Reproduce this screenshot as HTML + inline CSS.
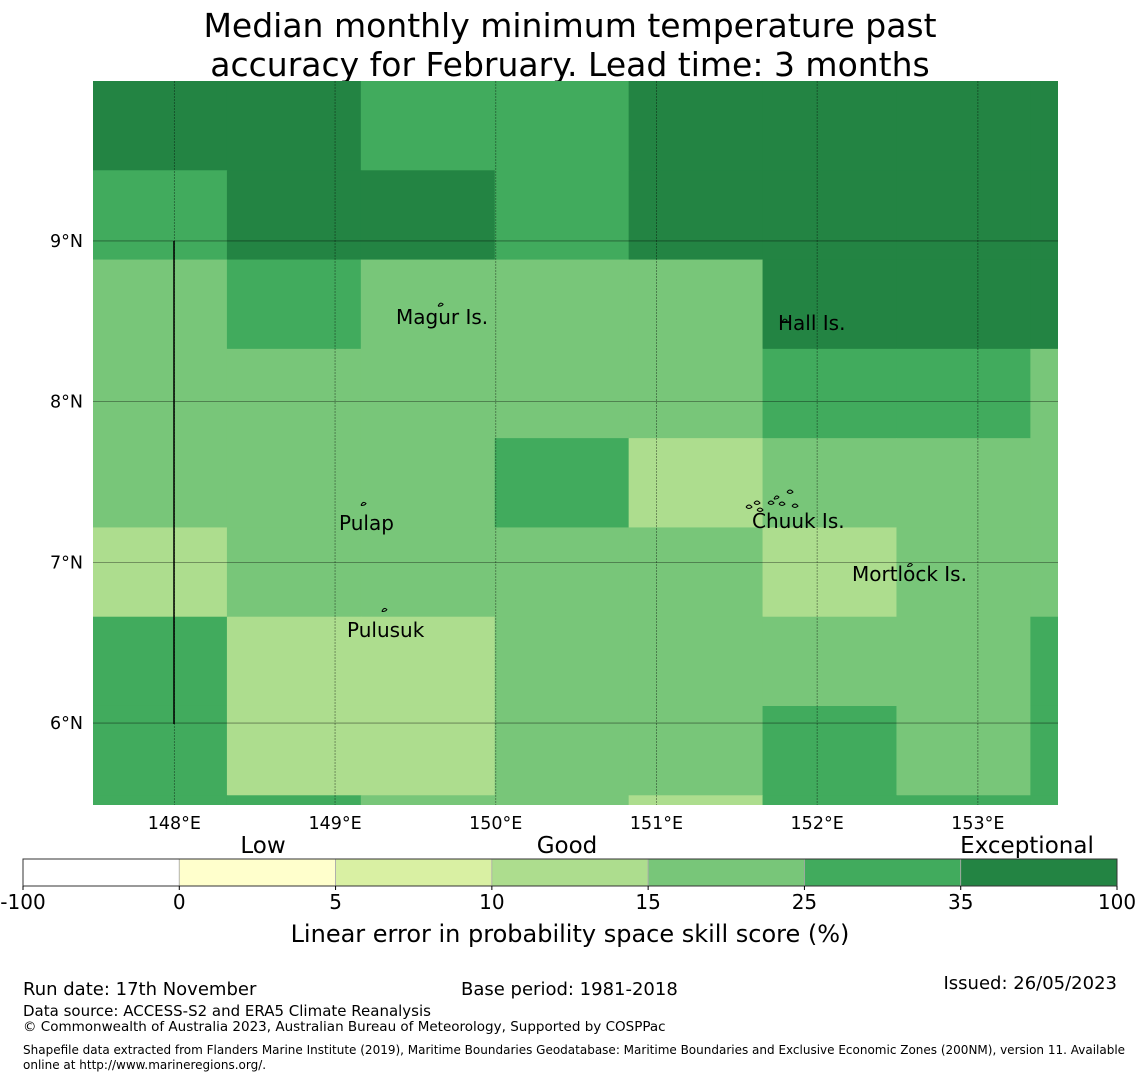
<!DOCTYPE html>
<html><head><meta charset="utf-8">
<style>
html,body{margin:0;background:#fff;overflow:hidden;width:1140px;height:1080px;}
svg{display:block;}
svg text{font-family:"DejaVu Sans","Liberation Sans",sans-serif;}
</style></head>
<body>
<svg id="chart" width="1140" height="1080" viewBox="0 0 1140 1080" xmlns="http://www.w3.org/2000/svg">
<text x="570" y="37" font-size="33" text-anchor="middle">Median monthly minimum temperature past</text>
<text x="570" y="76" font-size="33" text-anchor="middle">accuracy for February. Lead time: 3 months</text>
<g id="map"></g>
<g id="cbar"></g>
<text x="23" y="995" font-size="18">Run date: 17th November</text>
<text x="461" y="995" font-size="18">Base period: 1981-2018</text>
<text x="1117" y="989" font-size="18" text-anchor="end">Issued: 26/05/2023</text>
<text x="23" y="1016" font-size="15">Data source: ACCESS-S2 and ERA5 Climate Reanalysis</text>
<text x="23" y="1031" font-size="13.5">© Commonwealth of Australia 2023, Australian Bureau of Meteorology, Supported by COSPPac</text>
<text x="23" y="1054" font-size="12">Shapefile data extracted from Flanders Marine Institute (2019), Maritime Boundaries Geodatabase: Maritime Boundaries and Exclusive Economic Zones (200NM), version 11. Available</text>
<text x="23" y="1069" font-size="12">online at http://www.marineregions.org/.</text>
</svg>
<script>
// skill category per grid cell (rows top->bottom, cols left->right); index into binColors
const skillGrid = [
 [6,6,5,5,6,6,6,6],
 [5,6,6,5,6,6,6,6],
 [4,5,4,4,4,6,6,6],
 [4,4,4,4,4,5,5,4],
 [4,4,4,5,3,4,4,4],
 [3,4,4,4,4,3,4,4],
 [5,3,3,4,4,4,4,5],
 [5,3,3,4,4,5,4,5],
 [5,5,4,4,3,5,5,5]
];
const binEdges = ["-100","0","5","10","15","25","35","100"];
const binColors = ["#ffffff","#ffffcc","#d9f0a3","#addd8e","#78c679","#41ab5d","#238443"];
const lonTicks = [148,149,150,151,152,153];
const latTicks = [9,8,7,6];
const cellLon = 0.8333, cellLat = 0.5556;
const lonMin = 147.4937, latMax = 9.9953;
const places = [
 {name:"Magur Is.", lon:149.66, lat:8.6, tx:396, ty:324},
 {name:"Hall Is.", lon:151.8, lat:8.5, tx:778, ty:330},
 {name:"Pulap", lon:149.18, lat:7.36, tx:339, ty:530},
 {name:"Chuuk Is.", lon:151.75, lat:7.4, tx:752, ty:528},
 {name:"Mortlock Is.", lon:152.58, lat:6.98, tx:852, ty:581},
 {name:"Pulusuk", lon:149.31, lat:6.7, tx:347, ty:637}
];
const ns="http://www.w3.org/2000/svg";
const X0=93, X1=1058, Y0=81, Y1=805;
const pxPerDeg=160.7;
function xs(lon){return X0+(lon-lonMin)*pxPerDeg;}
function ys(lat){return Y0+(latMax-lat)*pxPerDeg;}
function mk(tag,attrs,parent){const e=document.createElementNS(ns,tag);for(const k in attrs)e.setAttribute(k,attrs[k]);parent.appendChild(e);return e;}
const map=document.getElementById('map');
const clip=mk('clipPath',{id:'mc'},map);
mk('rect',{x:X0,y:Y0,width:X1-X0,height:Y1-Y0},clip);
const cells=mk('g',{'clip-path':'url(#mc)'},map);
skillGrid.forEach((row,r)=>row.forEach((v,c)=>{
  const x=xs(lonMin+c*cellLon), y=ys(latMax-r*cellLat);
  const el=mk('rect',{x:x,y:y,width:xs(lonMin+(c+1)*cellLon)-x+0.5,height:ys(latMax-(r+1)*cellLat)-y+0.5,fill:binColors[v]},cells);
  
  
}));
lonTicks.forEach(l=>{
  const x=xs(l);
  const ln=mk('line',{x1:x,x2:x,y1:Y0,y2:Y1,stroke:'#000','stroke-opacity':0.45,'stroke-width':0.8,'stroke-dasharray':'2,1'},map);
  
  
  const t=mk('text',{x:x,y:829,'font-size':17.5,'text-anchor':'middle'},map);
  t.textContent=l+'°E';
  
  
});
latTicks.forEach(l=>{
  const y=ys(l);
  const ln=mk('line',{x1:X0,x2:X1,y1:y,y2:y,stroke:'#000','stroke-opacity':0.45,'stroke-width':0.8},map);
  
  
  const t=mk('text',{x:83,y:y+6,'font-size':17.5,'text-anchor':'end'},map);
  t.textContent=l+'°N';
  
  
});
const bl=mk('line',{x1:174,x2:174,y1:241,y2:724,stroke:'#000','stroke-width':1.5},map);


places.forEach(p=>{
  const x=xs(p.lon), y=ys(p.lat);
  const m=mk('path',{d:`M${x-3},${y+1} q2,-5 5,-2 q-1,2 -5,2`,fill:'none',stroke:'#000','stroke-width':1},map);
  
  
  const t=mk('text',{x:p.tx,y:p.ty,'font-size':20},map);
  t.textContent=p.name;
  
  
});
// extra Chuuk lagoon islets
[[749,507],[757,503],[771,503],[790,492],[795,506],[782,504],[760,510]].forEach(([x,y])=>{
  const m=mk('path',{d:`M${x-3},${y} q3,-4 6,0 q-3,3 -6,0`,fill:'none',stroke:'#000','stroke-width':1},map);
  
  
});
const cb=document.getElementById('cbar');
const CB0=23, CB1=1117, CBY=859, CBH=27, seg=(CB1-CB0)/binColors.length;
binColors.forEach((col,i)=>{
  const r=mk('rect',{x:CB0+i*seg,y:CBY,width:seg,height:CBH,fill:col,stroke:'#aaa','stroke-width':0.8},cb);
  
  
});
const fr=mk('rect',{x:CB0,y:CBY,width:CB1-CB0,height:CBH,fill:'none',stroke:'#333','stroke-width':1},cb);


binEdges.forEach((e,i)=>{
  const x=CB0+i*seg;
  const tk=mk('line',{x1:x,x2:x,y1:CBY+CBH,y2:CBY+CBH+4,stroke:'#000'},cb);
  
  
  const t=mk('text',{x:x,y:909,'font-size':20,'text-anchor':'middle'},cb);
  t.textContent=e;
  
  
});
[["Low",263],["Good",567],["Exceptional",1027]].forEach(([s,x])=>{
  const t=mk('text',{x:x,y:853,'font-size':23,'text-anchor':'middle'},cb);
  t.textContent=s;
  
  
});
const ct=mk('text',{x:570,y:942,'font-size':24,'text-anchor':'middle'},cb);
ct.textContent='Linear error in probability space skill score (%)';


</script>
</body></html>
